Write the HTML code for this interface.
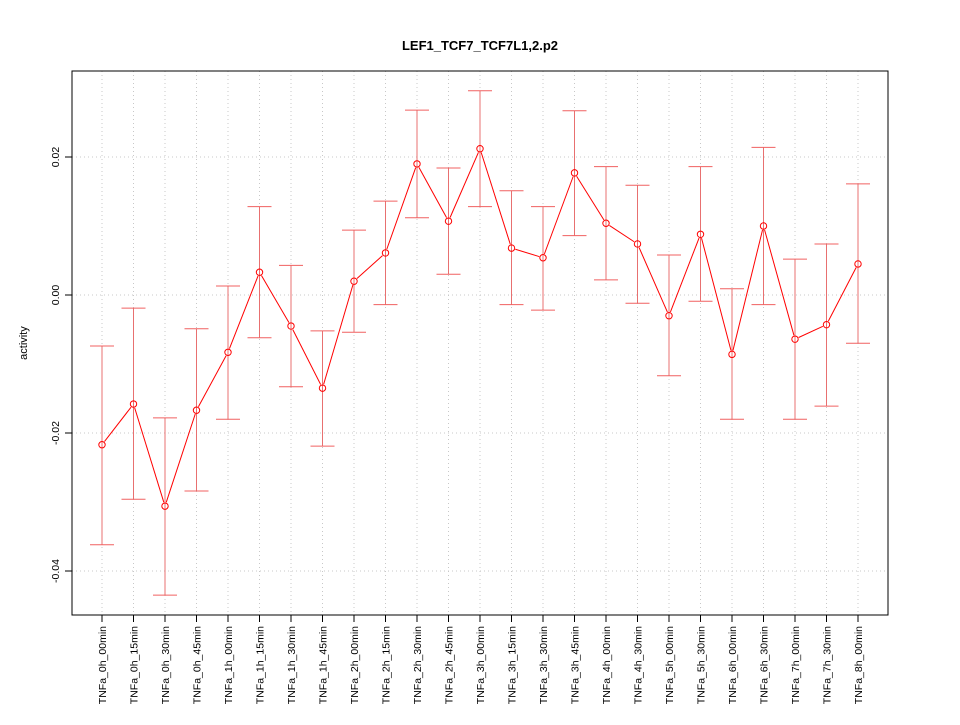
<!DOCTYPE html>
<html><head><meta charset="utf-8"><style>
body{margin:0;background:#fff;}
svg text{font-family:"Liberation Sans",sans-serif;}
</style></head><body>
<svg id="chart" width="960" height="720" xmlns="http://www.w3.org/2000/svg">
<rect width="960" height="720" fill="#fff"/>
<text x="480" y="50" text-anchor="middle" font-size="13" font-weight="bold">LEF1_TCF7_TCF7L1,2.p2</text>
<g id="grid"></g>
<g id="axes"></g>
<g id="series"></g>
<rect x="72" y="71" width="816" height="544" fill="none" stroke="#000"/>
<text transform="translate(27,343) rotate(-90)" text-anchor="middle" font-size="11">activity</text>
</svg>
<script>
const categories=["TNFa_0h_00min","TNFa_0h_15min","TNFa_0h_30min","TNFa_0h_45min","TNFa_1h_00min","TNFa_1h_15min","TNFa_1h_30min","TNFa_1h_45min","TNFa_2h_00min","TNFa_2h_15min","TNFa_2h_30min","TNFa_2h_45min","TNFa_3h_00min","TNFa_3h_15min","TNFa_3h_30min","TNFa_3h_45min","TNFa_4h_00min","TNFa_4h_30min","TNFa_5h_00min","TNFa_5h_30min","TNFa_6h_00min","TNFa_6h_30min","TNFa_7h_00min","TNFa_7h_30min","TNFa_8h_00min"];
const values=[-0.0217,-0.0158,-0.0306,-0.0167,-0.0083,0.0033,-0.0045,-0.0135,0.002,0.0061,0.019,0.0107,0.0212,0.0068,0.0054,0.0177,0.0104,0.0074,-0.003,0.0088,-0.0086,0.01,-0.0064,-0.0043,0.0045];
const upper=[-0.0074,-0.0019,-0.0178,-0.0049,0.0013,0.0128,0.0043,-0.0052,0.0094,0.0136,0.0268,0.0184,0.0296,0.0151,0.0128,0.0267,0.0186,0.0159,0.0058,0.0186,0.0009,0.0214,0.0052,0.0074,0.0161];
const lower=[-0.0362,-0.0296,-0.0435,-0.0284,-0.018,-0.0062,-0.0133,-0.0219,-0.0054,-0.0014,0.0112,0.003,0.0128,-0.0014,-0.0022,0.0086,0.0022,-0.0012,-0.0117,-0.0009,-0.018,-0.0014,-0.018,-0.0161,-0.007];
const yTicks=[-0.04,-0.02,0.00,0.02];
const yTickLabels=["-0.04","-0.02","0.00","0.02"];
const NS="http://www.w3.org/2000/svg";
function X(i){return 102+i*(858-102)/(categories.length-1);}
function Y(v){return 295-v*6900;}
function mk(tag,attrs,parent){const e=document.createElementNS(NS,tag);for(const k in attrs)e.setAttribute(k,attrs[k]);parent.appendChild(e);return e;}
const grid=document.getElementById('grid'),axes=document.getElementById('axes'),ser=document.getElementById('series');
categories.forEach((c,i)=>{
  const g=mk('line',{x1:X(i),x2:X(i),y1:71,y2:615,stroke:'#c8c8c8','stroke-dasharray':'1,3'},grid);
  
  
  const t=mk('line',{x1:X(i),x2:X(i),y1:615,y2:622,stroke:'#000'},axes);
  
  
  const l=mk('text',{transform:`translate(${X(i)+4},626) rotate(-90)`,'text-anchor':'end','font-size':'10.5'},axes);
  l.textContent=c;
  
  
});
yTicks.forEach((v,i)=>{
  const g=mk('line',{x1:72,x2:888,y1:Y(v),y2:Y(v),stroke:'#c8c8c8','stroke-dasharray':'1,3'},grid);
  
  
  const t=mk('line',{x1:65,x2:72,y1:Y(v),y2:Y(v),stroke:'#000'},axes);
  
  
  const l=mk('text',{transform:`translate(59,${Y(v)}) rotate(-90)`,'text-anchor':'middle','font-size':'10.5'},axes);
  l.textContent=yTickLabels[i];
  
  
});
values.forEach((v,i)=>{
  const x=X(i);
  const b=mk('line',{x1:x,x2:x,y1:Y(upper[i]),y2:Y(lower[i]),stroke:'#e87070'},ser);
  
  
  [upper[i],lower[i]].forEach(u=>{
    const c=mk('line',{x1:x-12,x2:x+12,y1:Y(u),y2:Y(u),stroke:'#f06060'},ser);
    
    
  });
});
for(let i=0;i<values.length-1;i++){
  const x1=X(i),y1=Y(values[i]),x2=X(i+1),y2=Y(values[i+1]);
  const d=Math.hypot(x2-x1,y2-y1),ux=(x2-x1)/d,uy=(y2-y1)/d;
  const s=mk('line',{x1:x1+ux*4,y1:y1+uy*4,x2:x2-ux*4,y2:y2-uy*4,stroke:'#ff0000'},ser);
  
  
}
values.forEach((v,i)=>{
  const p=mk('circle',{cx:X(i),cy:Y(v),r:3.2,fill:'none',stroke:'#ff0000'},ser);
  
  
});
</script>
</body></html>
